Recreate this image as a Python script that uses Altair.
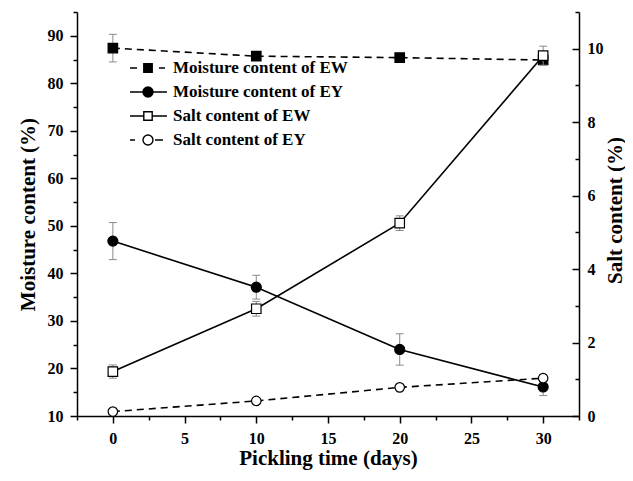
import altair as alt
import pandas as pd

# ---- data ----
days = [0, 10, 20, 30]
moist_ew = [87.4, 85.7, 85.4, 84.9]
moist_ew_err = [2.9, 0.6, 0.4, 0.5]
moist_ey = [46.8, 37.1, 24.0, 16.1]
moist_ey_err = [3.9, 2.5, 3.3, 1.8]
salt_ew = [1.21, 2.92, 5.25, 9.81]
salt_ew_err = [0.18, 0.2, 0.2, 0.26]
salt_ey = [0.12, 0.41, 0.78, 1.03]
salt_ey_err = [0.05, 0.06, 0.07, 0.1]

series_names = ["Moisture content of EW", "Moisture content of EY",
                "Salt content of EW", "Salt content of EY"]

x_ticks = [i * 2.5 for i in range(-1, 14)]
left_ticks = list(range(10, 96, 5))
right_ticks = list(range(0, 12))

FONT = "Liberation Serif"
ERR_COLOR = "#8a8a8a"


def frame(vals, errs):
    return pd.DataFrame({
        "day": days,
        "v": vals,
        "lo": [a - b for a, b in zip(vals, errs)],
        "hi": [a + b for a, b in zip(vals, errs)],
    })


x_enc = alt.X("day:Q", scale=alt.Scale(domain=[-2.5, 32.5], nice=False, zero=False),
              axis=alt.Axis(values=x_ticks, title="Pickling time (days)",
                            labelExpr="datum.value % 5 === 0 ? datum.label : ''",
                            tickSize=alt.ExprRef(expr="datum.value % 5 === 0 ? 7 : 4"),
                            labelPadding=7,
                            titleX=251, titleY=42, titleBaseline="middle",
                            titleAlign="center"))

left_axis = alt.Axis(orient="left", values=left_ticks, title="Moisture content (%)",
                     labelExpr="datum.value % 10 === 0 ? datum.label : ''",
                     tickSize=alt.ExprRef(expr="datum.value % 10 === 0 ? 7 : 4"),
                     labelPadding=7,
                     titleAngle=270, titleX=-49, titleY=202, titleBaseline="middle",
                     titleAlign="center")
right_axis = alt.Axis(orient="right", values=right_ticks, title="Salt content (%)",
                      labelExpr="datum.value % 2 === 0 ? datum.label : ''",
                      tickSize=alt.ExprRef(expr="datum.value % 2 === 0 ? -7 : -4"),
                      labelPadding=15,
                      titleAngle=270, titleX=36, titleY=198, titleBaseline="middle",
                      titleAlign="center")

left_scale = alt.Scale(domain=[10, 95], nice=False, zero=False)
right_scale = alt.Scale(domain=[0, 11], nice=False, zero=False)


def series_layers(vals, errs, scale, axis, dashed, shape, filled, size):
    df = frame(vals, errs)
    base = alt.Chart(df)
    y = alt.Y("v:Q", scale=scale, axis=axis)
    ylo = alt.Y("lo:Q", scale=scale, axis=axis)
    yhi = alt.Y("hi:Q", scale=scale, axis=axis)
    rule = base.mark_rule(color=ERR_COLOR, strokeWidth=1).encode(x=x_enc, y=ylo, y2="hi:Q")
    cap_lo = base.mark_tick(color=ERR_COLOR, orient="horizontal", size=8, thickness=1,
                            opacity=1).encode(x=x_enc, y=ylo)
    cap_hi = base.mark_tick(color=ERR_COLOR, orient="horizontal", size=8, thickness=1,
                            opacity=1).encode(x=x_enc, y=yhi)
    line_kw = dict(color="black", strokeWidth=1.6)
    if dashed:
        line_kw["strokeDash"] = [7, 5]
    line = base.mark_line(**line_kw).encode(x=x_enc, y=y)
    pts = base.mark_point(shape=shape, filled=True, fill="black" if filled else "white",
                          stroke="black", strokeWidth=1.2, size=size, opacity=1).encode(x=x_enc, y=y)
    return [rule, cap_lo, cap_hi, line, pts]


left_group = alt.layer(
    *series_layers(moist_ew, moist_ew_err, left_scale, left_axis, True, "square", True, 90),
    *series_layers(moist_ey, moist_ey_err, left_scale, left_axis, False, "circle", True, 100),
)
right_group = alt.layer(
    *series_layers(salt_ew, salt_ew_err, right_scale, right_axis, False, "square", False, 90),
    *series_layers(salt_ey, salt_ey_err, right_scale, right_axis, True, "circle", False, 90),
)

# legend symbols: line + marker as custom paths (unit = 10 px at symbolSize 400)
SQ = "M-0.42,-0.42H0.42V0.42H-0.42Z"
CI = "M0.5,0A0.5,0.5,0,1,1,-0.5,0A0.5,0.5,0,1,1,0.5,0Z"
legend_paths = [
    "M-1.8,0H-1.1M1.1,0H1.7" + SQ,
    "M-1.8,0H-0.5M0.5,0H1.9" + CI,
    "M-1.8,0H-0.42M0.42,0H1.9" + SQ,
    "M-1.8,0H-1.3M0.7,0H1.5" + CI,
]
legend_fills = ["black", "black", "white", "white"]
legend_strokes = ["black", "black", "black", "black"]

leg = alt.Legend(title=None, orient="none", legendX=60, legendY=45,
                 symbolSize=400, symbolStrokeWidth=1.4, symbolStrokeColor="black",
                 labelFont=FONT, labelFontSize=17, labelFontWeight="bold",
                 labelColor="black", labelOffset=14, rowPadding=5, padding=0,
                 symbolOpacity=1, labelLimit=400)

legend_layer = alt.Chart(pd.DataFrame({"series": series_names})).transform_filter(
    "false").mark_point(filled=True, strokeWidth=1.4, opacity=1).encode(
    shape=alt.Shape("series:N", scale=alt.Scale(domain=series_names, range=legend_paths),
                    legend=leg, sort=series_names),
    fill=alt.Fill("series:N", scale=alt.Scale(domain=series_names, range=legend_fills),
                  legend=leg, sort=series_names),
    stroke=alt.Stroke("series:N", scale=alt.Scale(domain=series_names, range=legend_strokes),
                      legend=leg, sort=series_names),
)

chart = alt.layer(left_group, right_group, legend_layer).resolve_scale(
    y="independent"
).properties(
    width=502, height=404,
    autosize=alt.AutoSizeParams(type="none"),
    padding={"left": 69, "top": 4, "right": 46, "bottom": 55},
    background="white",
).configure_view(stroke=None).configure_axis(
    grid=False, domainColor="black", domainWidth=1.5, tickColor="black", tickWidth=1.5,
    labelFont=FONT, labelFontSize=16, labelFontWeight="bold", labelColor="black",
    titleFont=FONT, titleFontSize=21, titleFontWeight="bold", titleColor="black",
    labelFlush=False, labelOverlap=False,
)

chart.save("out.html", embed_options={"renderer": "svg", "actions": False})
